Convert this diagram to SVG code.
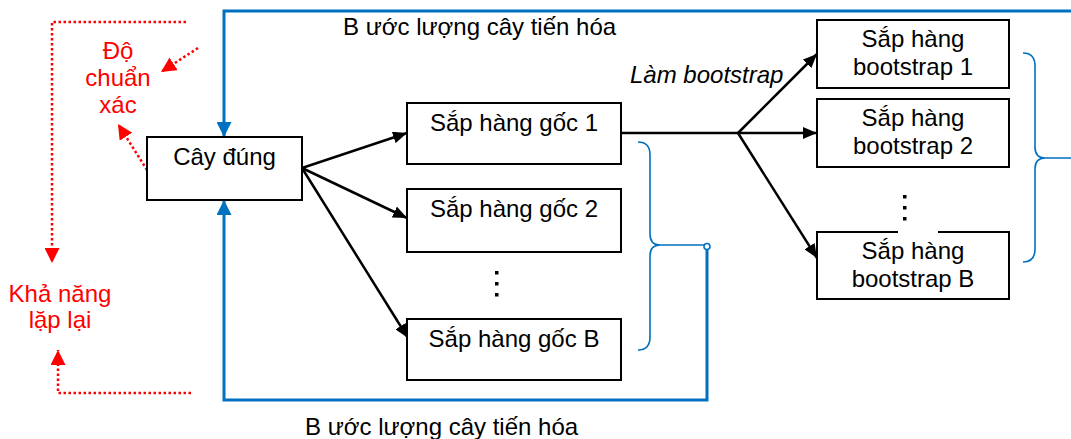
<svg xmlns="http://www.w3.org/2000/svg" width="1071" height="439" viewBox="0 0 1071 439">
  <defs>
    <marker id="ah-black" markerUnits="userSpaceOnUse" markerWidth="14" markerHeight="12" refX="14" refY="6" orient="auto">
      <path d="M0,0 L14,6 L0,12 z" fill="#000"/>
    </marker>
    <marker id="ah-blue" markerUnits="userSpaceOnUse" markerWidth="15" markerHeight="15" refX="15" refY="7.5" orient="auto">
      <path d="M0,0 L15,7.5 L0,15 z" fill="#0070C0"/>
    </marker>
    <marker id="ah-red" markerUnits="userSpaceOnUse" markerWidth="15" markerHeight="15" refX="15" refY="7.5" orient="auto">
      <path d="M0,0 L15,7.5 L0,15 z" fill="#FF0000"/>
    </marker>
  </defs>
  <style>
    .box { fill: #fff; stroke: #000; stroke-width: 2; }
    .t { font-family: "Liberation Sans", Arial, sans-serif; font-size: 24px; fill: #000; }
    .c { text-anchor: middle; }
    .red { fill: #FF0000; }
    .arr { stroke: #000; stroke-width: 2.5; fill: none; }
    .blue { stroke: #0070C0; stroke-width: 3; fill: none; }
    .brace { stroke: #0070C0; stroke-width: 1.6; fill: none; }
    .dot { stroke: #FF0000; stroke-width: 2.5; stroke-dasharray: 2.5 2.5; fill: none; }
  </style>

  <rect width="1071" height="439" fill="#fff"/>

  <!-- connectors -->
  <g id="connectors">
    <!-- feedback loops -->
    <path class="blue" d="M1071,11 H224 V137" marker-end="url(#ah-blue)"/>
    <path class="blue" d="M707,249 V400 H224 V200" marker-end="url(#ah-blue)"/>
    <circle cx="707" cy="246.5" r="3" fill="#fff" stroke="#0070C0" stroke-width="1.6"/>
    <!-- braces -->
    <path class="brace" d="M638,142 Q650,142 650,155 V234 Q650,245 660,245 Q650,245 650,256 V337 Q650,350 638,350 M660,245 H704"/>
    <path class="brace" d="M1023,53 Q1035,53 1035,66 V147 Q1035,158 1045,158 Q1035,158 1035,169 V249 Q1035,262 1023,262 M1045,158 H1071"/>
    <!-- true tree to original alignments -->
    <line class="arr" x1="302" y1="168" x2="407" y2="133" marker-end="url(#ah-black)"/>
    <line class="arr" x1="302" y1="168" x2="407" y2="218" marker-end="url(#ah-black)"/>
    <line class="arr" x1="302" y1="168" x2="408" y2="338" marker-end="url(#ah-black)"/>
    <!-- bootstrap resampling -->
    <polyline class="arr" points="621,133 738,133"/>
    <line class="arr" x1="738" y1="133" x2="817" y2="54" marker-end="url(#ah-black)"/>
    <line class="arr" x1="738" y1="133" x2="817" y2="133" marker-end="url(#ah-black)"/>
    <line class="arr" x1="738" y1="133" x2="817" y2="258" marker-end="url(#ah-black)"/>
    <!-- accuracy / repeatability -->
    <path class="dot" d="M186,22 H52 V263" marker-end="url(#ah-red)"/>
    <path class="dot" d="M191,393 H58 V350" marker-end="url(#ah-red)"/>
    <line class="dot" x1="198" y1="48" x2="161" y2="72" marker-end="url(#ah-red)"/>
    <line class="dot" x1="147" y1="170" x2="118" y2="124" marker-end="url(#ah-red)"/>
  </g>

  <!-- labels -->
  <g id="labels">
    <text class="t" x="343" y="35">B ước lượng cây tiến hóa</text>
    <text class="t" x="305" y="435">B ước lượng cây tiến hóa</text>
    <text class="t" x="630" y="83" font-style="italic">Làm bootstrap</text>
    <text class="t c red" x="118" y="59">Độ</text>
    <text class="t c red" x="118" y="86">chuẩn</text>
    <text class="t c red" x="118" y="113">xác</text>
    <text class="t c red" x="60" y="302">Khả năng</text>
    <text class="t c red" x="60" y="328">lặp lại</text>
  </g>

  <!-- nodes -->
  <g id="node-true-tree">
    <rect class="box" x="147" y="137" width="155" height="63"/>
    <text class="t c" x="224.5" y="165">Cây đúng</text>
  </g>
  <g id="node-orig-1">
    <rect class="box" x="407" y="103" width="214" height="61"/>
    <text class="t c" x="514" y="131">Sắp hàng gốc 1</text>
  </g>
  <g id="node-orig-2">
    <rect class="box" x="407" y="189" width="214" height="63"/>
    <text class="t c" x="514" y="217">Sắp hàng gốc 2</text>
  </g>
  <g id="node-orig-dots">
    <rect x="495" y="271" width="3.5" height="3.5"/>
    <rect x="495" y="282" width="3.5" height="3.5"/>
    <rect x="495" y="293" width="3.5" height="3.5"/>
  </g>
  <g id="node-orig-B">
    <rect class="box" x="407" y="319" width="214" height="61"/>
    <text class="t c" x="514" y="347">Sắp hàng gốc B</text>
  </g>
  <g id="node-boot-1">
    <rect class="box" x="817" y="20" width="192" height="68"/>
    <text class="t c" x="913" y="47">Sắp hàng</text>
    <text class="t c" x="913" y="75">bootstrap 1</text>
  </g>
  <g id="node-boot-2">
    <rect class="box" x="817" y="99" width="192" height="68"/>
    <text class="t c" x="913" y="126">Sắp hàng</text>
    <text class="t c" x="913" y="154">bootstrap 2</text>
  </g>
  <g id="node-boot-B">
    <rect class="box" x="817" y="232" width="192" height="67"/>
    <text class="t c" x="913" y="259">Sắp hàng</text>
    <text class="t c" x="913" y="287">bootstrap B</text>
  </g>
  <g id="node-boot-dots">
    <rect x="898" y="188" width="40" height="45" fill="#fff"/>
    <rect x="903" y="195" width="3.5" height="3.5"/>
    <rect x="903" y="206" width="3.5" height="3.5"/>
    <rect x="903" y="217" width="3.5" height="3.5"/>
  </g>
</svg>
